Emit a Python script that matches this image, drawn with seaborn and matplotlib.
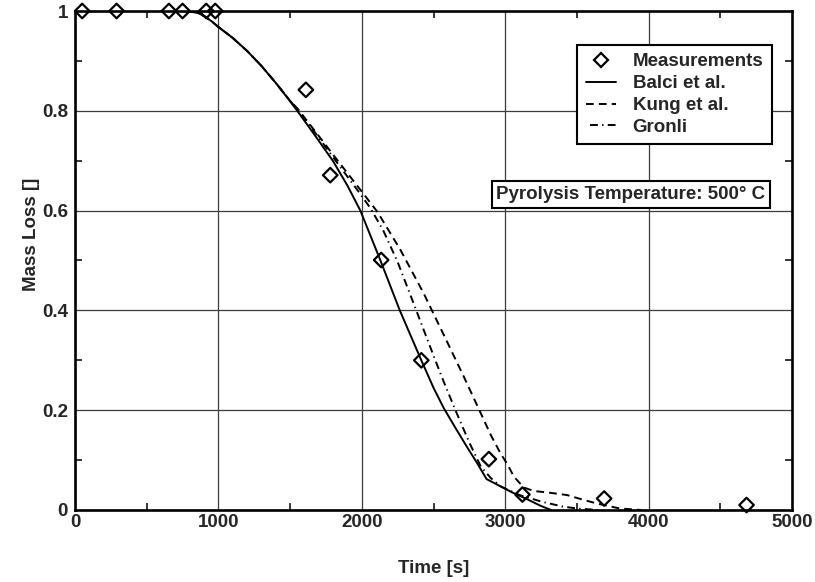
import matplotlib
matplotlib.use("Agg")
import matplotlib.pyplot as plt
import seaborn as sns
import pandas as pd
from matplotlib.lines import Line2D
from matplotlib.ticker import MultipleLocator, FuncFormatter

# Measured mass loss during pyrolysis at 500 °C
meas_t = [50, 290, 655, 750, 915, 978, 1610, 1780, 2135, 2415, 2886, 3120, 3690, 4683]
meas_m = [1.0, 1.0, 1.0, 1.0, 1.0, 1.0, 0.842, 0.671, 0.501, 0.300, 0.102, 0.031, 0.023, 0.010]

# Model predictions
balci_t = [0, 750, 850, 900, 950, 1000, 1100, 1200, 1300, 1400, 1500, 1550, 1680, 1800,
           1900, 1990, 2130, 2265, 2415, 2500, 2570, 2650, 2730, 2800, 2870, 2950, 3050,
           3150, 3250, 3320]
balci_m = [1.0, 1.0, 0.997, 0.99, 0.98, 0.968, 0.946, 0.920, 0.890, 0.856, 0.819, 0.800,
           0.748, 0.699, 0.650, 0.600, 0.500, 0.400, 0.300, 0.245, 0.205, 0.166, 0.128,
           0.096, 0.062, 0.050, 0.035, 0.022, 0.008, 0.0]

kung_t = [0, 750, 850, 900, 950, 1000, 1100, 1200, 1300, 1400, 1500, 1550, 1680, 1800,
          1900, 2000, 2110, 2270, 2430, 2600, 2710, 2820, 2900, 2970, 3015, 3060, 3130,
          3200, 3300, 3430, 3550, 3640, 3800, 3950]
kung_m = [1.0, 1.0, 0.997, 0.99, 0.98, 0.968, 0.946, 0.920, 0.890, 0.856, 0.820, 0.805,
          0.757, 0.712, 0.675, 0.638, 0.597, 0.521, 0.435, 0.334, 0.268, 0.200, 0.150,
          0.112, 0.092, 0.067, 0.045, 0.038, 0.035, 0.030, 0.020, 0.013, 0.003, 0.0]

gronli_t = [0, 750, 850, 900, 950, 1000, 1100, 1200, 1300, 1400, 1500, 1550, 1680, 1800,
            1900, 1980, 2060, 2150, 2250, 2360, 2470, 2560, 2650, 2750, 2830, 2900, 2970,
            3100, 3250, 3400, 3500, 3650]
gronli_m = [1.0, 1.0, 0.997, 0.99, 0.98, 0.968, 0.946, 0.920, 0.890, 0.856, 0.820, 0.803,
            0.754, 0.707, 0.668, 0.637, 0.605, 0.560, 0.497, 0.415, 0.332, 0.265, 0.202,
            0.135, 0.087, 0.064, 0.047, 0.030, 0.017, 0.007, 0.003, 0.0]

series_labels = ["Measurements", "Balci et al.", "Kung et al.", "Gronli"]
x_ticks = [0, 1000, 2000, 3000, 4000, 5000]
y_ticks = [0, 0.2, 0.4, 0.6, 0.8, 1.0]
annotation = "Pyrolysis Temperature: 500° C"

sns.set_style("white")
plt.rcParams["font.family"] = ["Liberation Sans", "DejaVu Sans"]
plt.rcParams["font.weight"] = "bold"
FS = 13.5

fig = plt.figure(figsize=(8.15, 5.82), dpi=100)
ax = fig.add_axes([75 / 815, 1 - 510 / 582, 717 / 815, 499 / 582])

LW = 1.4
solid = "-"
dashed = (0, (4.0, 2.6))
dashdot = (7.0, (4.0, 2.2, 0.7, 2.2))

sns.lineplot(x=balci_t, y=balci_m, ax=ax, color="k", lw=LW, linestyle=solid,
             sort=False, estimator=None, zorder=3)
sns.lineplot(x=kung_t, y=kung_m, ax=ax, color="k", lw=LW, linestyle=dashed,
             sort=False, estimator=None, zorder=3)
sns.lineplot(x=gronli_t, y=gronli_m, ax=ax, color="k", lw=LW, linestyle=dashdot,
             sort=False, estimator=None, zorder=3)
sns.scatterplot(x=meas_t, y=meas_m, ax=ax, marker="D", s=55, facecolor="none",
                edgecolor="k", linewidth=1.6, zorder=4, clip_on=False)

ax.set_xlim(0, 5000)
ax.set_ylim(0, 1)
ax.set_xticks(x_ticks)
ax.set_yticks(y_ticks)
ax.xaxis.set_minor_locator(MultipleLocator(500))
ax.yaxis.set_minor_locator(MultipleLocator(0.1))
ax.yaxis.set_major_formatter(FuncFormatter(lambda v, p: f"{v:g}"))

ax.grid(True, which="major", color="#3c3c3c", lw=0.9, zorder=1)
ax.set_axisbelow(True)
ax.tick_params(which="major", length=0, labelsize=FS, pad=3)
ax.tick_params(axis="y", which="major", pad=5)
ax.tick_params(which="minor", direction="in", length=5, width=1.1, color="k",
               top=True, right=True, bottom=True, left=True)
for sp in ax.spines.values():
    sp.set_linewidth(1.9)
    sp.set_color("k")
    sp.set_zorder(5)

ax.set_xlabel("Time [s]", fontsize=FS, fontweight="bold", labelpad=21)
ax.set_ylabel("Mass Loss []", fontsize=FS, fontweight="bold")
ax.yaxis.set_label_coords(-0.049, 0.553)

handles = [
    Line2D([], [], marker="D", ls="none", mfc="none", mec="k", mew=1.6, ms=7.3),
    Line2D([], [], color="k", lw=LW, linestyle=solid),
    Line2D([], [], color="k", lw=LW, linestyle=dashed),
    Line2D([], [], color="k", lw=LW, linestyle=dashdot),
]
leg = ax.legend(handles, series_labels, loc="upper right",
                bbox_to_anchor=(0.972, 0.932), borderaxespad=0, fancybox=False,
                edgecolor="k", framealpha=1, handlelength=1.6, handletextpad=0.9,
                labelspacing=0.25, borderpad=0.45,
                prop={"size": FS, "weight": "bold"})
leg.get_frame().set_linewidth(1.5)
leg.set_zorder(6)

ax.text(0.963, 0.632, annotation, transform=ax.transAxes, ha="right", va="center",
        fontsize=FS, fontweight="bold", zorder=6,
        bbox=dict(boxstyle="square,pad=0.25", fc="white", ec="k", lw=1.5))

fig.savefig("out.png", dpi=100)
